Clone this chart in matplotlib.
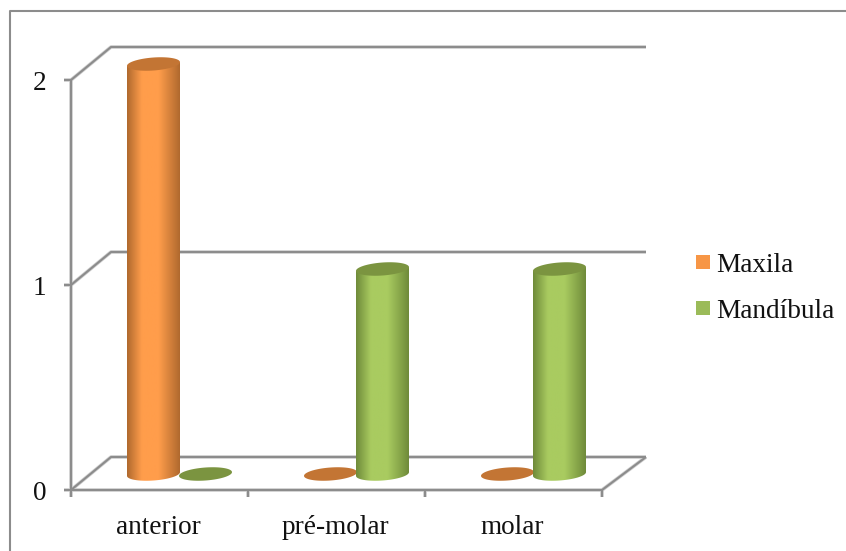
"""Cylinder column chart, Maxila vs Mandibula by tooth region"""

import numpy as np
import matplotlib
matplotlib.use("Agg")
import matplotlib.pyplot as plt
from matplotlib.colors import LinearSegmentedColormap
from matplotlib.patches import Polygon, Rectangle

categories = ["anterior", "pré-molar", "molar"]
maxila = [2, 0, 0]
mandibula = [0, 1, 1]
y_ticks = [0, 1, 2]

W, H = 846, 551
GRID = "#8c8c8c"
TXT = "#111111"
FS = 19.6

fig = plt.figure(figsize=(W / 100, H / 100), dpi=100)
plt.rcParams["font.family"] = ["Liberation Serif", "DejaVu Serif"]

# outer chart frame, in pixels
bg = fig.add_axes([0, 0, 1, 1])
bg.set_xlim(0, W)
bg.set_ylim(H, 0)
bg.axis("off")
bg.plot([10, 10, 846], [551, 11, 11], color=GRID, lw=1.5)

# front plane of the 3d box: x 71-602 px, y 490-80 px
ax = fig.add_axes([71 / W, (H - 490) / H, 531 / W, 410 / H])
n = len(categories)
ax.axis("off")
ax.patch.set_alpha(0)

sx = n / 531  # data units per pixel
sy = 2 / 410
depth_x, depth_y = 40 * sx, 33 * sy
right_end = n + 44 * sx
bar_dx, bar_dy = 20 * sx, 16 * sy
bar_off = 26 * sx
half_w = 26.5  # px
half_h = 6.5  # px
shear = 0.07  # ellipse rises to the right


def line(xs, ys):
    # soft shadow under the grey rule
    ax.plot(xs, ys, color="#cfcfcf", lw=2.6, clip_on=False, zorder=1, solid_capstyle="butt")
    ax.plot(xs, ys, color=GRID, lw=1.5, clip_on=False, zorder=1.1, solid_capstyle="butt")


for v in y_ticks:
    line([0, depth_x, right_end], [v, v + depth_y, v + depth_y])
    line([-7 * sx, 0], [v, v])
line([0, 0], [0, 2])
line([0, n, right_end], [0, 0, depth_y])
for i in range(n + 1):
    line([i, i], [0, -7 * sy])


def ellipse_pts(xc, yc, t):
    px = half_w * np.cos(t)
    py = half_h * np.sin(t) + shear * px
    return np.column_stack([xc + px * sx, yc + py * sy])


def cylinder(xc, base, top, edge, mid, cap):
    cmap = LinearSegmentedColormap.from_list(
        "c", [(0, edge), (0.28, mid), (0.6, mid), (1, edge)])
    grad = np.linspace(0, 1, 128).reshape(1, -1)
    w = half_w * sx
    im = ax.imshow(grad, cmap=cmap, aspect="auto", zorder=3,
                   extent=[xc - w, xc + w, base - 10 * sy, top + 5 * sy])
    # sides plus the lower half of the base ellipse
    lower = ellipse_pts(xc, base, np.linspace(np.pi, 2 * np.pi, 60))
    upper = ellipse_pts(xc, top, np.array([0.0, np.pi]))
    clip = Polygon(np.vstack([lower, upper]), transform=ax.transData, fc="none", ec="none")
    ax.add_patch(clip)
    im.set_clip_box(fig.bbox)
    im.set_clip_path(clip)
    pts = ellipse_pts(xc, top, np.linspace(0, 2 * np.pi, 90))
    ax.add_patch(Polygon(pts, fc=cap, ec="none", zorder=4, clip_on=False))


def disc(xc, base, cap):
    pts = ellipse_pts(xc, base, np.linspace(0, 2 * np.pi, 90))
    ax.add_patch(Polygon(pts, fc=cap, ec="none", zorder=2, clip_on=False))


styles = [
    (maxila, -bar_off, "#B0692E", "#FF9D4B", "#C37534"),
    (mandibula, bar_off, "#6F8B3A", "#A9CB60", "#7B9440"),
]
for vals, off, edge, mid, cap in styles:
    for i, v in enumerate(vals):
        xc = i + 0.5 + bar_dx + off
        if v == 0:
            disc(xc, bar_dy, cap)
        else:
            cylinder(xc, bar_dy, v + bar_dy, edge, mid, cap)

ax.set_xlim(0, n)
ax.set_ylim(0, 2)

for v in y_ticks:
    ax.text(-25 * sx, v - 3.5 * sy, str(v), ha="right", va="center", fontsize=FS,
            color=TXT, clip_on=False)
for i, c in enumerate(categories):
    ax.text(i + 0.5 - 1.2 * sx, -37 * sy, c, ha="center", va="center", fontsize=FS,
            color=TXT, clip_on=False)

# legend, in pixels
bg.add_patch(Rectangle((696, 255), 14, 14, fc="#F79646", ec="none"))
bg.add_patch(Rectangle((696, 301), 14, 14, fc="#9BBB59", ec="none"))
bg.text(716, 266, "Maxila", ha="left", va="center", fontsize=FS, color=TXT)
bg.text(716, 312, "Mandíbula", ha="left", va="center", fontsize=FS, color=TXT)

fig.savefig("out.png", dpi=100)
